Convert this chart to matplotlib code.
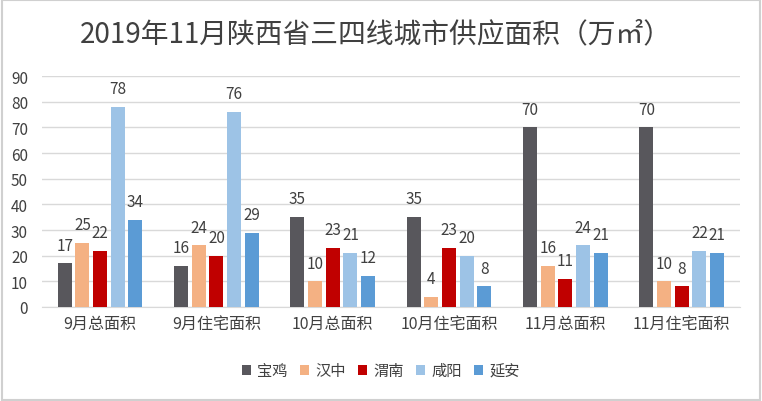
import numpy as np
import matplotlib.pyplot as plt
from matplotlib.patches import Rectangle

plt.rcParams['font.family'] = ['Noto Sans CJK SC', 'DejaVu Sans']

categories = ['9月总面积', '9月住宅面积', '10月总面积', '10月住宅面积', '11月总面积', '11月住宅面积']
cities = ['宝鸡', '汉中', '渭南', '咸阳', '延安']
baoji = [17, 16, 35, 35, 70, 70]
hanzhong = [25, 24, 10, 4, 16, 10]
weinan = [22, 20, 23, 23, 11, 8]
xianyang = [78, 76, 21, 20, 24, 22]
yanan = [34, 29, 12, 8, 21, 21]
series = [baoji, hanzhong, weinan, xianyang, yanan]
colors = ['#58575C', '#F4B183', '#C00000', '#9DC3E6', '#5B9BD5']

fig = plt.figure(figsize=(7.62, 4.02), dpi=100)
ax = fig.add_axes([0.055, 0.234, 0.916, 0.574])

x = np.arange(len(categories))
pitch = 0.152
for j, (vals, c, name) in enumerate(zip(series, colors, cities)):
    xs = x + (j - 2) * pitch
    ax.bar(xs, vals, width=0.12, color=c, label=name, zorder=3)
    for xi, v in zip(xs, vals):
        ax.annotate(str(v), (xi, v), xytext=(0, 7), textcoords='offset points',
                    ha='center', va='bottom', fontsize=11, color='#404040')

ax.set_xlim(-0.5, 5.5)
ax.set_ylim(0, 90)
ax.set_yticks(range(0, 91, 10))
ax.set_xticks(x)
ax.set_xticklabels(categories, fontsize=11.5, color='#404040')
ax.tick_params(axis='y', labelsize=11, labelcolor='#404040', length=0, pad=10)
ax.tick_params(axis='x', length=0, pad=6)
ax.grid(axis='y', color='#D9D9D9', linewidth=1, zorder=0)
for s in ['top', 'right', 'left']:
    ax.spines[s].set_visible(False)
ax.spines['bottom'].set_color('#D9D9D9')

fig.text(0.493, 0.915, '2019年11月陕西省三四线城市供应面积（万㎡）', ha='center', va='center',
         fontsize=20, color='#404040')

fig.legend(loc='center', bbox_to_anchor=(0.5, 0.075), ncol=5, frameon=False,
           fontsize=11, handlelength=0.6, handleheight=0.6, handletextpad=0.4,
           columnspacing=0.8, labelcolor='#404040')

fig.patches.append(Rectangle((0.002, 0.003), 0.996, 0.994, transform=fig.transFigure,
                             fill=False, edgecolor='#D0D0D0', linewidth=1.5))

fig.savefig('out.png', dpi=100)
